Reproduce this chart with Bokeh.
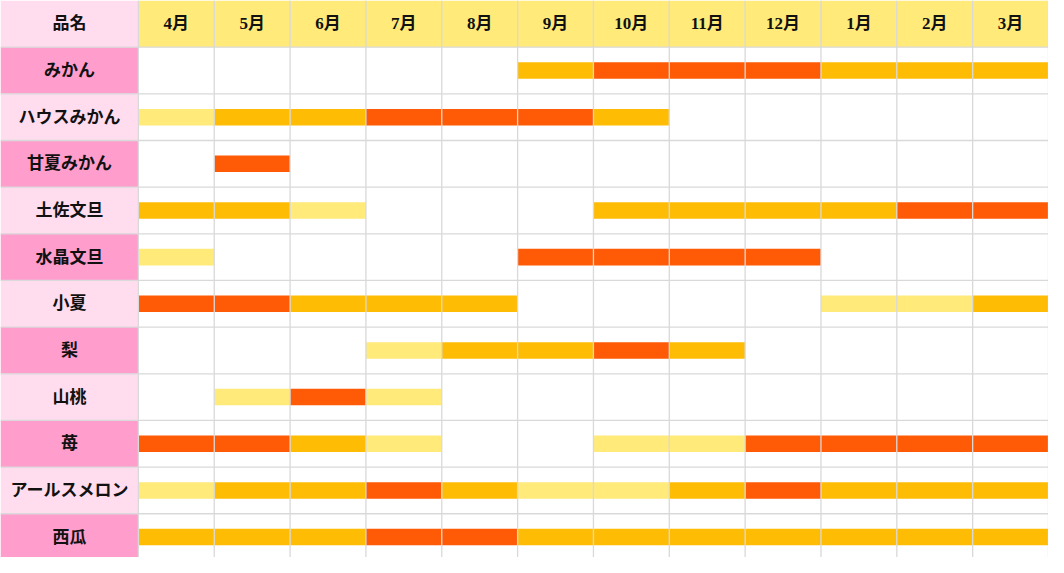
from bokeh.plotting import figure
from bokeh.models import ColumnDataSource, Range1d
from bokeh.core.properties import value
from bokeh.embed import file_html
from bokeh.resources import INLINE

# ---- data ----
header_label = "品名"
months = ["4月", "5月", "6月", "7月", "8月", "9月", "10月", "11月", "12月", "1月", "2月", "3月"]
fruits = ["みかん", "ハウスみかん", "甘夏みかん", "土佐文旦", "水晶文旦", "小夏",
          "梨", "山桃", "苺", "アールスメロン", "西瓜"]
# 0 = none, 1 = early/late (light), 2 = in season, 3 = peak
mikan       = [0, 0, 0, 0, 0, 2, 3, 3, 3, 2, 2, 2]
house_mikan = [1, 2, 2, 3, 3, 3, 2, 0, 0, 0, 0, 0]
amanatsu    = [0, 3, 0, 0, 0, 0, 0, 0, 0, 0, 0, 0]
tosa_buntan = [2, 2, 1, 0, 0, 0, 2, 2, 2, 2, 3, 3]
suisho      = [1, 0, 0, 0, 0, 3, 3, 3, 3, 0, 0, 0]
konatsu     = [3, 3, 2, 2, 2, 0, 0, 0, 0, 1, 1, 2]
nashi       = [0, 0, 0, 1, 2, 2, 3, 2, 0, 0, 0, 0]
yamamomo    = [0, 1, 3, 1, 0, 0, 0, 0, 0, 0, 0, 0]
ichigo      = [3, 3, 2, 1, 0, 0, 1, 1, 3, 3, 3, 3]
melon       = [1, 2, 2, 3, 2, 1, 1, 2, 3, 2, 2, 2]
suika       = [2, 2, 2, 3, 3, 2, 2, 2, 2, 2, 2, 2]
season = [mikan, house_mikan, amanatsu, tosa_buntan, suisho, konatsu,
          nashi, yamamomo, ichigo, melon, suika]

# ---- style ----
LEVEL_COLORS = {1: "#FFEA7A", 2: "#FFBC05", 3: "#FF5A05"}
HEADER_YELLOW = "#FFEA7A"
PINK_DARK = "#FF9DCC"
PINK_LIGHT = "#FFDDEE"
GRID = "#D9D9D9"
FONT = value("Liberation Serif, Noto Sans CJK JP")

LABEL_W = 140.0
COL_W = 77.0
ROW_H = 48.0
BAR_H = 17.0
TOTAL_W = LABEL_W + COL_W * len(months)
TOTAL_H = 573.0

p = figure(width=1048, height=557, output_backend="svg", toolbar_location=None,
           x_range=Range1d(0, TOTAL_W), y_range=Range1d(TOTAL_H, 0),
           min_border=0)
p.axis.visible = False
p.xgrid.visible = False
p.ygrid.visible = False
p.outline_line_color = None
p.background_fill_color = "white"
p.border_fill_color = "white"

# header cells
hx_l = [0.0] + [LABEL_W + COL_W * i for i in range(len(months))]
hx_r = [LABEL_W] + [LABEL_W + COL_W * (i + 1) for i in range(len(months))]
hcol = [PINK_LIGHT] + [HEADER_YELLOW] * len(months)
p.quad(left=hx_l, right=hx_r, top=[0.0] * len(hx_l), bottom=[ROW_H] * len(hx_l),
       fill_color=hcol, line_color=None)

# label cells
ly_t = [ROW_H * (r + 1) for r in range(len(fruits))]
ly_b = [ROW_H * (r + 2) for r in range(len(fruits))]
lcol = [PINK_DARK if r % 2 == 0 else PINK_LIGHT for r in range(len(fruits))]
p.quad(left=[0.0] * len(fruits), right=[LABEL_W] * len(fruits), top=ly_t, bottom=ly_b,
       fill_color=lcol, line_color=None)

# season bars
bl, br, bt, bb, bc = [], [], [], [], []
for r, row in enumerate(season):
    cy = ROW_H * (r + 1) + ROW_H / 2
    for i, lvl in enumerate(row):
        if lvl:
            bl.append(LABEL_W + COL_W * i)
            br.append(LABEL_W + COL_W * (i + 1))
            bt.append(cy - BAR_H / 2)
            bb.append(cy + BAR_H / 2)
            bc.append(LEVEL_COLORS[lvl])
p.quad(left=bl, right=br, top=bt, bottom=bb, fill_color=bc, line_color=None)

# grid lines
vx = [LABEL_W + COL_W * k for k in range(len(months) + 1)]
p.segment(x0=vx, x1=vx, y0=[0.0] * len(vx), y1=[TOTAL_H] * len(vx),
          line_color=GRID, line_width=1.3)
hy = [ROW_H * (r + 1) for r in range(len(fruits) + 1)]
p.segment(x0=[0.0] * len(hy), x1=[TOTAL_W] * len(hy), y0=hy, y1=hy,
          line_color=GRID, line_width=1.3)

# texts
tsrc = ColumnDataSource(dict(
    x=[LABEL_W / 2] + [LABEL_W + COL_W * (i + 0.5) for i in range(len(months))],
    y=[ROW_H / 2] * (len(months) + 1),
    t=[header_label] + months))
p.text(x="x", y="y", text="t", source=tsrc, text_font=FONT, text_font_size="17px",
       text_font_style="bold", text_align="center", text_baseline="middle",
       text_color="#111111")
fsrc = ColumnDataSource(dict(
    x=[LABEL_W / 2] * len(fruits),
    y=[ROW_H * (r + 1) + ROW_H / 2 for r in range(len(fruits))],
    t=fruits))
p.text(x="x", y="y", text="t", source=fsrc, text_font=FONT, text_font_size="17px",
       text_font_style="bold", text_align="center", text_baseline="middle",
       text_color="#111111")

open("out.html", "w").write(file_html(p, INLINE))
